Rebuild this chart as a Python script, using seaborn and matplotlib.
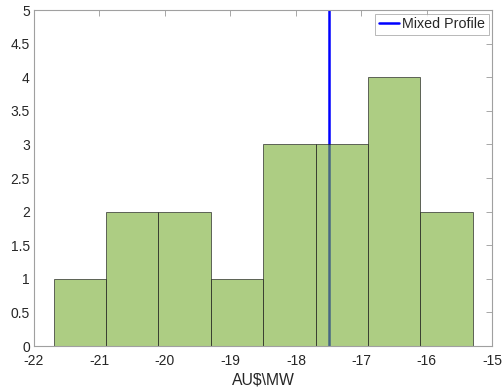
import numpy as np
import pandas as pd
import matplotlib
matplotlib.use("Agg")
import matplotlib.pyplot as plt
import seaborn as sns

# Data
bin_edges = [-21.7, -20.9, -20.1, -19.3, -18.5, -17.7, -16.9, -16.1, -15.3]
counts = [1, 2, 2, 1, 3, 3, 4, 2]
mixed_profile = -17.5
x_ticks = [-22, -21, -20, -19, -18, -17, -16, -15]
y_ticks = [0, 0.5, 1, 1.5, 2, 2.5, 3, 3.5, 4, 4.5, 5]
y_tick_labels = ["0", "0.5", "1", "1.5", "2", "2.5", "3", "3.5", "4", "4.5", "5"]

sns.set_style("white")
plt.rcParams['font.family'] = ['Liberation Sans', 'DejaVu Sans']

edges = np.array(bin_edges)
df = pd.DataFrame({"value": (edges[:-1] + edges[1:]) / 2, "count": counts})

fig = plt.figure(figsize=(5.03, 3.91), dpi=100)
ax = fig.add_axes([34 / 503, 1 - 346 / 391, 458.3 / 503, 336 / 391])

ax.axvline(mixed_profile, color="#0000ff", lw=1.8, zorder=1, label="Mixed Profile")
sns.histplot(data=df, x="value", weights="count", bins=bin_edges, ax=ax,
             color="#adcd83", alpha=1.0, edgecolor="#4f5a45", linewidth=0.6,
             zorder=2)
# semi-transparent bars over the line, as in the reference
for p in ax.patches:
    p.set_facecolor((0.466, 0.674, 0.188, 0.6))
    p.set_edgecolor((0.15, 0.15, 0.15, 0.8))

ax.set_xlim(-22, -15)
ax.set_ylim(0, 5)
ax.set_xticks(x_ticks)
ax.set_xticklabels([str(t) for t in x_ticks])
ax.set_yticks(y_ticks)
ax.set_yticklabels(y_tick_labels)
ax.set_xlabel("AU$\\MW", fontsize=11.3, color="#262626", labelpad=3)
ax.set_ylabel("")
ax.tick_params(direction="in", length=4, width=0.6, colors="#999999",
               labelcolor="#262626", labelsize=10, top=True, right=True)
ax.tick_params(axis="x", pad=6)
ax.tick_params(axis="y", pad=3)
for s in ax.spines.values():
    s.set_visible(True)
    s.set_color("#a0a0a0")
    s.set_linewidth(0.8)

leg = ax.legend(loc="upper right", fontsize=10.3, frameon=True, fancybox=False,
                handlelength=1.45, handletextpad=0.2, borderpad=0.25,
                borderaxespad=0.25)
leg.get_frame().set_edgecolor("#999999")
leg.get_frame().set_linewidth(0.6)

fig.savefig("out.png", dpi=100)
